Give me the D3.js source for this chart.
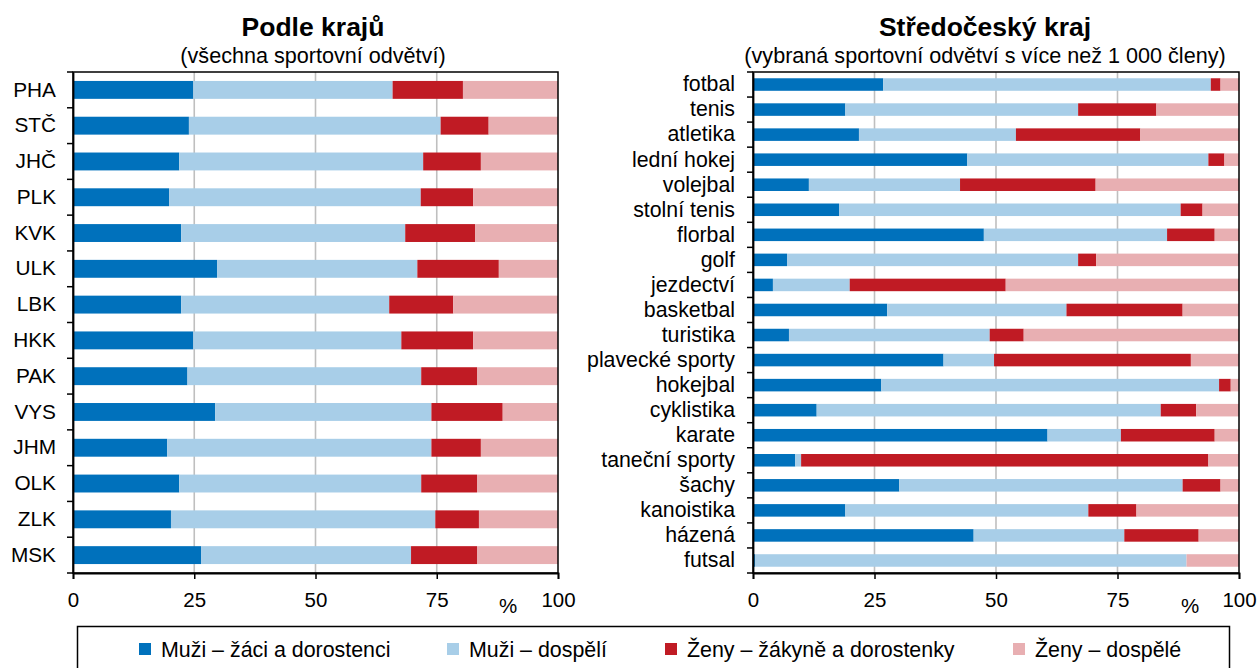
<!DOCTYPE html>
<html><head><meta charset="utf-8">
<script src="https://cdn.jsdelivr.net/npm/d3@7"></script>
<style>
body{margin:0;background:#fff}
text{font-family:"Liberation Sans",Arial,sans-serif;fill:#000}
</style>
</head><body>
<svg id="c" width="1259" height="668"></svg>
<script>
// ---- Data: left panel (regions) ----
const regions = ["PHA","STČ","JHČ","PLK","KVK","ULK","LBK","HKK","PAK","VYS","JHM","OLK","ZLK","MSK"];
const regBoys  = [24.8,23.9,21.9,19.8,22.3,29.7,22.3,24.8,23.6,29.3,19.4,21.9,20.2,26.4];
const regMen   = [41.1,51.9,50.3,51.9,46.2,41.3,42.9,42.9,48.2,44.6,54.5,49.9,54.5,43.3];
const regGirls = [14.5, 9.9,11.9,10.8,14.4,16.8,13.2,14.8,11.5,14.7,10.2,11.5, 9.0,13.6];
const regWomen = [19.6,14.3,15.9,17.5,17.1,12.2,21.6,17.5,16.7,11.4,15.9,16.7,16.3,16.7];

// ---- Data: right panel (sports in Středočeský kraj) ----
const sports = ["fotbal","tenis","atletika","lední hokej","volejbal","stolní tenis","florbal","golf","jezdectví","basketbal","turistika","plavecké sporty","hokejbal","cyklistika","karate","taneční sporty","šachy","kanoistika","házená","futsal"];
const spBoys  = [26.8,19.0,21.8,44.1,11.5,17.7,47.5, 7.0, 4.1,27.6, 7.4,39.2,26.4,13.1,60.6, 8.7,30.1,19.0,45.4, 0.4];
const spMen   = [67.4,47.9,32.3,49.6,31.1,70.3,37.7,59.9,15.8,36.9,41.3,10.4,69.5,70.8,15.1, 1.2,58.3,50.0,31.0,88.8];
const spGirls = [ 2.0,16.1,25.6, 3.3,27.9, 4.5, 9.8, 3.7,32.1,23.9, 7.0,40.5, 2.4, 7.3,19.3,83.8, 7.8, 9.9,15.3, 0.0];
const spWomen = [ 3.8,17.0,20.3, 3.0,29.5, 7.5, 5.0,29.4,48.0,11.6,44.3, 9.9, 1.7, 8.8, 5.0, 6.3, 3.8,21.1, 8.3,10.8];

const xTicks = [0,25,50,75,100];
const seriesNames = ["Muži – žáci a dorostenci","Muži – dospělí","Ženy – žákyně a dorostenky","Ženy – dospělé"];
const seriesKeys = ["boys","men","girls","women"];
const colors = ["#0071BC","#A8CEE8","#C01B24","#E8AFB2"];

const svg = d3.select("#c");
const color = d3.scaleOrdinal().domain(seriesKeys).range(colors);

function panel(cfg){
  const rows = cfg.cats.map((c,i)=>({cat:c, boys:cfg.s[0][i], men:cfg.s[1][i], girls:cfg.s[2][i], women:cfg.s[3][i]}));
  const stack = d3.stack().keys(seriesKeys)(rows);
  const x = d3.scaleLinear().domain([0,100]).range([cfg.x0,cfg.x1]);
  const y = d3.scaleBand().domain(cfg.cats).range([cfg.y0,cfg.y1]).paddingInner(0.5).paddingOuter(0.25);
  const g = svg.append("g");

  // gridlines
  g.append("g").selectAll("line").data([25,50,75]).join("line")
    .attr("x1",d=>x(d)).attr("x2",d=>x(d)).attr("y1",cfg.y0).attr("y2",cfg.y1)
    .attr("stroke","#BFBFBF").attr("stroke-width",1.6);

  // bars
  g.append("g").selectAll("g").data(stack).join("g").attr("fill",d=>color(d.key))
    .selectAll("rect").data(d=>d).join("rect")
    .attr("x",d=>x(d[0])).attr("width",d=>x(d[1])-x(d[0]))
    .attr("y",d=>y(d.data.cat)).attr("height",y.bandwidth());

  // frame
  g.append("rect").attr("x",cfg.x0).attr("y",cfg.y0).attr("width",cfg.x1-cfg.x0).attr("height",cfg.y1-cfg.y0)
    .attr("fill","none").attr("stroke","#000").attr("stroke-width",1.5);

  // y axis labels
  const ya = g.append("g").attr("transform",`translate(${cfg.x0},0)`)
    .call(d3.axisLeft(y).tickSize(0).tickPadding(cfg.labPad));
  ya.select(".domain").attr("stroke","#000").attr("stroke-width",1.8);
  ya.selectAll("text").attr("font-size",cfg.labSize).style("font-family",'"Liberation Sans",Arial,sans-serif');

  // category boundary ticks
  const gap = (y.step()-y.bandwidth())/2;
  const bounds = cfg.cats.map(c=>y(c)-gap).concat([y(cfg.cats[cfg.cats.length-1])+y.bandwidth()+gap]);
  g.append("g").selectAll("line").data(bounds).join("line")
    .attr("x1",cfg.x0-6).attr("x2",cfg.x0).attr("y1",d=>d).attr("y2",d=>d)
    .attr("stroke","#000").attr("stroke-width",1.5);

  // x axis
  const xa = g.append("g").attr("transform",`translate(0,${cfg.y1})`)
    .call(d3.axisBottom(x).tickValues(xTicks).tickSize(6).tickPadding(13).tickFormat(d3.format("d")));
  xa.select(".domain").attr("stroke","#000").attr("stroke-width",1.8);
  xa.selectAll(".tick line").attr("stroke","#000").attr("stroke-width",1.5);
  xa.selectAll("text").attr("font-size",20.5).style("font-family",'"Liberation Sans",Arial,sans-serif');

  g.append("text").attr("x",cfg.pctX).attr("y",cfg.y1+40).attr("text-anchor","middle").attr("font-size",20.5).text("%");

  // titles
  g.append("text").attr("x",cfg.titleX).attr("y",36).attr("text-anchor","middle")
    .attr("font-size",26.5).attr("font-weight","bold").text(cfg.title);
  g.append("text").attr("x",cfg.titleX).attr("y",63).attr("text-anchor","middle")
    .attr("font-size",21.6).text(cfg.sub);
}

panel({cats:regions, s:[regBoys,regMen,regGirls,regWomen], x0:73, x1:558, y0:72, y1:573,
  labPad:17, labSize:20.8, pctX:508, titleX:313, title:"Podle krajů", sub:"(všechna sportovní odvětví)"});
panel({cats:sports, s:[spBoys,spMen,spGirls,spWomen], x0:753, x1:1239, y0:72, y1:573,
  labPad:18, labSize:21.3, pctX:1190, titleX:985, title:"Středočeský kraj", sub:"(vybraná sportovní odvětví s více než 1 000 členy)"});

// legend
const leg = svg.append("g");
leg.append("rect").attr("x",77.5).attr("y",626.5).attr("width",1152).attr("height",60)
  .attr("fill","none").attr("stroke","#000").attr("stroke-width",1.5);
const legX = [139,447,665,1013];
const li = leg.selectAll("g.li").data(seriesKeys).join("g").attr("class","li")
  .attr("transform",(d,i)=>`translate(${legX[i]},0)`);
li.append("rect").attr("x",0).attr("y",643).attr("width",12).attr("height",12).attr("fill",d=>color(d));
li.append("text").attr("x",22).attr("y",657).attr("font-size",21.4).text((d,i)=>seriesNames[i]);
</script>
</body></html>
